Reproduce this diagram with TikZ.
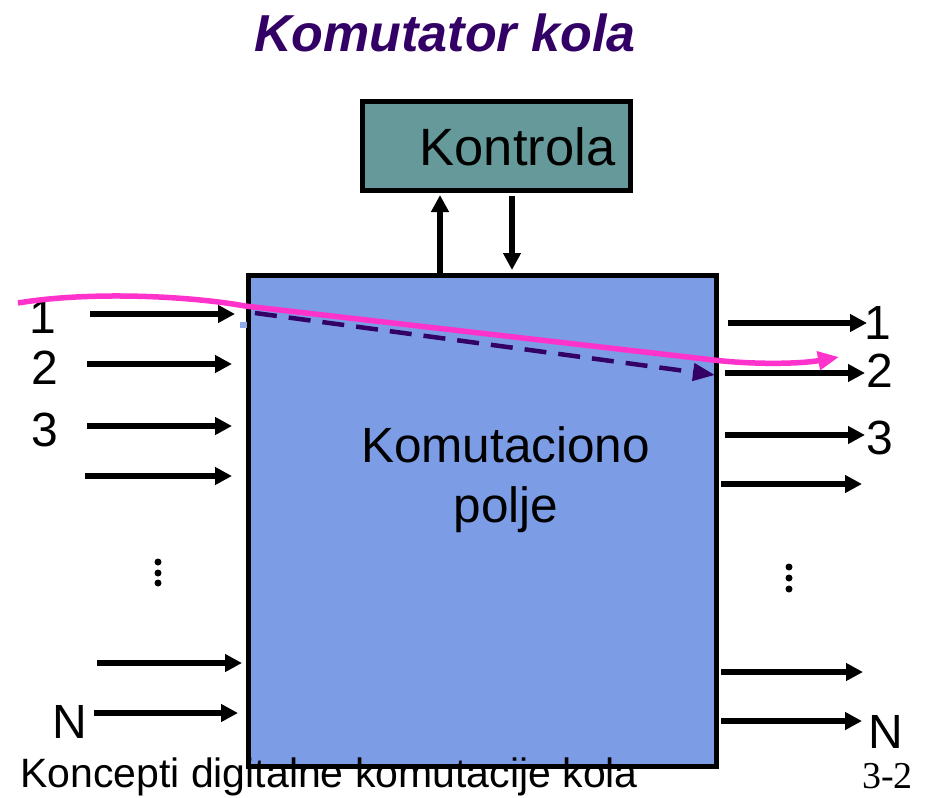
\documentclass[tikz,border=0pt]{standalone}
\usepackage{fontspec}
\setmainfont{Liberation Sans}
\newfontfamily\pagefont{Liberation Serif}
\usetikzlibrary{arrows.meta}
\definecolor{deeppurple}{RGB}{51,0,102}
\definecolor{ctrlteal}{RGB}{102,153,153}
\definecolor{fieldblue}{RGB}{125,156,230}
\definecolor{pathpink}{RGB}{255,51,204}
\tikzset{
  sig/.style={line width=5.5pt,-{Triangle[length=17pt,width=17pt]}},
  boxframe/.style={draw=black,line width=5pt,inner sep=0pt,anchor=north west},
  lbl/.style={font=\fontsize{48}{50}\selectfont,inner sep=0pt},
  route/.style={draw=pathpink,line width=5.5pt,-{Triangle[length=21pt,width=18pt]}},
  dashroute/.style={draw=deeppurple,line width=4.5pt,dash pattern=on 22pt off 12pt,
    -{Triangle[length=22pt,width=17pt]}},
  dot/.style={fill=black}
}
\begin{document}
\begin{tikzpicture}[x=1pt,y=-1pt]
\useasboundingbox (0,0) rectangle (928,797);
\fill[white] (0,0) rectangle (928,797);

% title
\node[anchor=base,text=deeppurple,inner sep=0pt,
  font=\fontsize{52}{54}\selectfont\bfseries\itshape] (title) at (445,52) {Komutator kola};

% control unit and switching field
\node[boxframe,fill=ctrlteal,minimum width=268.5pt,minimum height=88pt] (ctrl) at (359.5,99.5) {};
\node[anchor=base,inner sep=0pt,font=\fontsize{52.5}{54}\selectfont] (ctrltext) at (517.5,165) {Kontrola};

\node[boxframe,fill=fieldblue,minimum width=468.5pt,minimum height=491.5pt] (field) at (245.5,272.5) {};
\node[anchor=base,inner sep=0pt,font=\fontsize{49.5}{52}\selectfont] (fieldtext1) at (505.5,462) {Komutaciono};
\node[anchor=base,inner sep=0pt,font=\fontsize{49.5}{52}\selectfont] (fieldtext2) at (506,522) {polje};

% control signals
\coordinate (up) at (440,0);
\coordinate (down) at (512,196);
\draw[sig,shorten >=2.5pt] (field.north -| up) -- (ctrl.south -| up);
\draw[sig,shorten >=2.5pt] (down) -- (field.north -| down);

% inputs
\coordinate (in1) at (90,314);
\coordinate (in2) at (87,364);
\coordinate (in3) at (87,426);
\coordinate (in4) at (85,476);
\coordinate (in5) at (97,663);
\coordinate (inN) at (94,713);
\draw[sig] (in1) -- ([xshift=-10.5pt]field.west |- in1);
\draw[sig] (in2) -- ([xshift=-13.5pt]field.west |- in2);
\draw[sig] (in3) -- ([xshift=-13.5pt]field.west |- in3);
\draw[sig] (in4) -- ([xshift=-13.5pt]field.west |- in4);
\draw[sig] (in5) -- ([xshift=-3.5pt]field.west |- in5);
\draw[sig] (inN) -- ([xshift=-7.5pt]field.west |- inN);

% outputs
\coordinate (out1) at (867,323);
\coordinate (out2) at (865,373);
\coordinate (out3) at (865,435);
\coordinate (out4) at (862,484);
\coordinate (out5) at (863,672);
\coordinate (outN) at (862,721);
\draw[sig] ([xshift=9pt]field.east |- out1) -- (out1);
\draw[sig] ([xshift=6pt]field.east |- out2) -- (out2);
\draw[sig] ([xshift=6pt]field.east |- out3) -- (out3);
\draw[sig] ([xshift=2pt]field.east |- out4) -- (out4);
\draw[sig] ([xshift=2pt]field.east |- out5) -- (out5);
\draw[sig] ([xshift=2pt]field.east |- outN) -- (outN);

% line labels
\node[lbl] (l1) at (43,317) {1};
\node[lbl] (l2) at (45,368) {2};
\node[lbl] (l3) at (45,430) {3};
\node[lbl] (lN) at (70,722) {N};
\node[lbl] (r1) at (878,323) {1};
\node[lbl] (r2) at (880,371) {2};
\node[lbl] (r3) at (880,438) {3};
\node[lbl] (rN) at (886,732) {N};

% ellipsis dots
\fill[dot] (158,562) circle (3.5pt) (158,573) circle (3.5pt) (158,583) circle (3.5pt);
\fill[dot] (789,567) circle (3.5pt) (789,578) circle (3.5pt) (789,589) circle (3.5pt);

% established connection 1 -> 2
\fill[fieldblue!85!white] (240,322) rectangle (247,328);
\coordinate (d0) at (255,313);
\coordinate (d1) at (715,375);
\draw[dashroute] (d0) -- (d1);

\coordinate (m0) at (18,303);
\coordinate (m1) at (245,306);
\coordinate (m2) at (705,359);
\coordinate (m3) at (839,357);
\draw[route] (m0) .. controls (90,291) and (190,296) .. (m1) -- (m2)
  .. controls (750,365) and (800,364) .. (m3);

% footer
\node[anchor=base west,inner sep=0pt,font=\fontsize{41}{43}\selectfont] (footer) at (20,787) {Koncepti digitalne komutacije kola};
\node[anchor=base west,inner sep=0pt,font=\pagefont\fontsize{38}{40}\selectfont] (pageno) at (862,788) {3-2};
\end{tikzpicture}
\end{document}
